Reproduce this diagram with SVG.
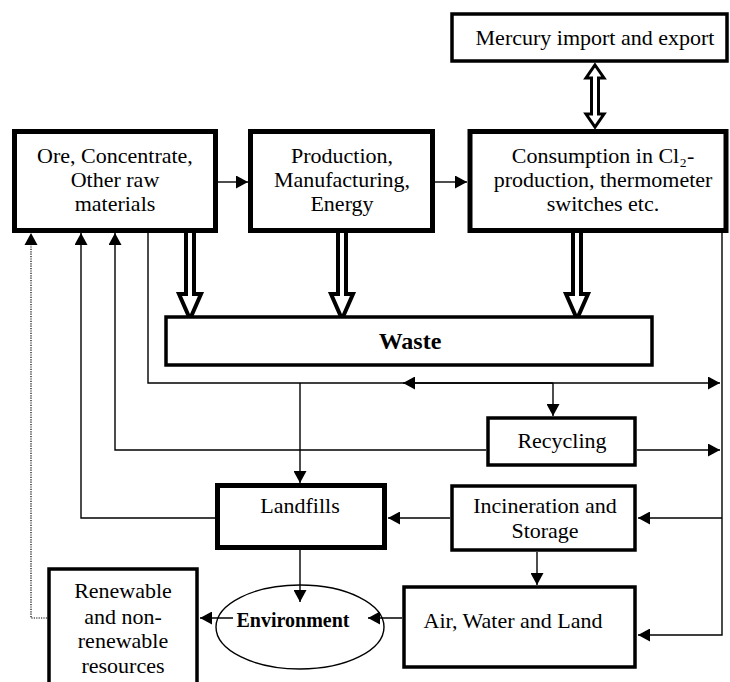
<svg xmlns="http://www.w3.org/2000/svg" width="730" height="682" viewBox="0 0 730 682">
<style>
text{font-family:"Liberation Serif","Times New Roman","DejaVu Serif",serif;font-size:22px;fill:#000;text-anchor:middle}
.b{font-weight:bold}
.thick{fill:#fff;stroke:#000;stroke-width:5}
.box{fill:#fff;stroke:#000;stroke-width:3.5}
.ln{fill:none;stroke:#000;stroke-width:1.4}
.dot{fill:none;stroke:#000;stroke-width:1.2;stroke-dasharray:1.2,1.2}
.hol{fill:#fff;stroke:#000;stroke-width:4;stroke-linejoin:miter}
</style>
<defs>
<marker id="ah" markerUnits="userSpaceOnUse" markerWidth="12" markerHeight="13" refX="12" refY="6.5" orient="auto">
<path d="M0,0 L12,6.5 L0,13 Z" fill="#000"/>
</marker>
</defs>
<g id="connectors">
<path class="ln" d="M218,182 H248" marker-end="url(#ah)"/>
<path class="ln" d="M435,182 H467" marker-end="url(#ah)"/>
<path class="ln" d="M148,233 V383 H720" marker-end="url(#ah)"/>
<path class="ln" d="M553,383 H403" marker-end="url(#ah)"/>
<path class="ln" d="M300,383 V483" marker-end="url(#ah)"/>
<path class="ln" d="M553,383 V416" marker-end="url(#ah)"/>
<path class="ln" d="M486,450 H115 V233" marker-end="url(#ah)"/>
<path class="ln" d="M637,450 H720" marker-end="url(#ah)"/>
<path class="ln" d="M215,518 H81 V233" marker-end="url(#ah)"/>
<path class="ln" d="M450,518 H388" marker-end="url(#ah)"/>
<path class="ln" d="M722,233 V635 H638" marker-end="url(#ah)"/>
<path class="ln" d="M722,518 H638" marker-end="url(#ah)"/>
<path class="ln" d="M537,552 V585" marker-end="url(#ah)"/>
<path class="ln" d="M300,550 V602" marker-end="url(#ah)"/>
<path class="ln" d="M402,618 H368" marker-end="url(#ah)"/>
<path class="ln" d="M233,618 H200" marker-end="url(#ah)"/>
<path class="dot" d="M47,618 H31 V245"/>
<path d="M24.5,245 L31,233 L37.5,245 Z" fill="#000"/>
<path class="hol" d="M186,233 V294 H179 L190,319 L201,294 H194 V233"/>
<path class="hol" d="M338,233 V294 H331 L342,319 L353,294 H346 V233"/>
<path class="hol" d="M573,233 V294 H566 L577,319 L588,294 H581 V233"/>
<path d="M595,65 L604,78 L598.5,78 L598.5,114 L604,114 L595,127 L586,114 L591.5,114 L591.5,78 L586,78 Z" fill="#fff" stroke="#000" stroke-width="3"/>
</g>
<g id="mercury">
<rect class="box" x="452" y="14" width="275" height="47"/>
<text x="595" y="45">Mercury import and export</text>
</g>
<g id="ore">
<rect class="thick" x="14.5" y="131.5" width="201" height="99"/>
<text x="115" y="163">Ore, Concentrate,</text>
<text x="115" y="187">Other raw</text>
<text x="115" y="211">materials</text>
</g>
<g id="production">
<rect class="thick" x="250.5" y="131.5" width="182" height="99"/>
<text x="342" y="163">Production,</text>
<text x="342" y="187">Manufacturing,</text>
<text x="342" y="211">Energy</text>
</g>
<g id="consumption">
<rect class="thick" x="470" y="131.5" width="256" height="99"/>
<text x="603" y="163">Consumption in Cl₂-</text>
<text x="603" y="187">production, thermometer</text>
<text x="603" y="211">switches etc.</text>
</g>
<g id="waste">
<rect class="box" x="166" y="317" width="486" height="48"/>
<text class="b" x="410" y="349" style="font-size:24px">Waste</text>
</g>
<g id="recycling">
<rect class="box" x="488" y="418" width="147" height="47"/>
<text x="562" y="448">Recycling</text>
</g>
<g id="landfills">
<rect class="thick" x="217.5" y="485.5" width="167" height="62"/>
<text x="300" y="513">Landfills</text>
</g>
<g id="incineration">
<rect class="box" x="452" y="486" width="183" height="64"/>
<text x="545" y="513">Incineration and</text>
<text x="545" y="538">Storage</text>
</g>
<g id="air">
<rect class="box" x="404" y="587" width="231" height="80"/>
<text x="513" y="628">Air, Water and Land</text>
</g>
<g id="environment">
<ellipse cx="300" cy="627" rx="84" ry="42" fill="none" stroke="#000" stroke-width="1.4"/>
<text class="b" x="293" y="627" style="font-size:20px">Environment</text>
</g>
<g id="renewable">
<rect class="box" x="49" y="569" width="148" height="130"/>
<text x="123" y="598">Renewable</text>
<text x="123" y="624">and non-</text>
<text x="123" y="648">renewable</text>
<text x="123" y="673">resources</text>
</g>
</svg>
